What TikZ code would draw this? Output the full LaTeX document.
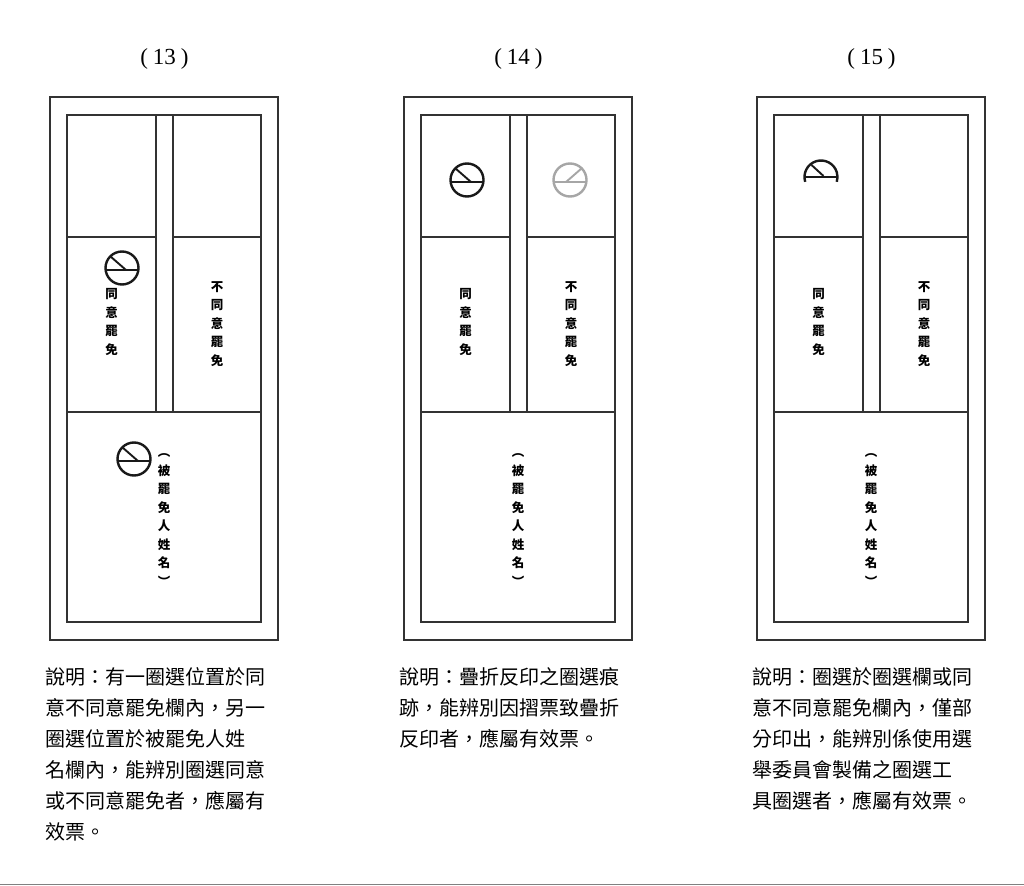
\documentclass[tikz,border=0pt]{standalone}
\usepackage{fontspec}
\setmainfont{Liberation Serif}
\newfontfamily\cjk{Noto Sans CJK TC}
\usetikzlibrary{calc}

\tikzset{
  frame/.style={draw=black!80,line width=1.4pt},
  vlabel/.style={font=\cjk\bfseries\fontsize{12.5}{18.5}\selectfont,align=center,inner sep=0pt},
  note/.style={font=\cjk\fontsize{20}{31}\selectfont,align=left,anchor=north west,inner sep=0pt},
  title/.style={font=\fontsize{23}{26}\selectfont,inner sep=0pt},
  stamp/.pic={
    \draw[line width=2.4pt] (0,0) circle (16.5pt);
    \draw[line width=1.9pt] (-16.4pt,-2pt) -- (16.4pt,-2pt);
    \draw[line width=1.9pt] (-11.7pt,11.7pt) -- (4pt,-2pt);
  },
  halfstamp/.pic={
    \draw[line width=2.4pt] (197:16.5pt) arc[start angle=197,end angle=-17,radius=16.5pt];
    \draw[line width=1.9pt] (-16pt,0pt) -- (16pt,0pt);
    \draw[line width=1.9pt] (-9.5pt,12pt) -- (2.5pt,1pt);
  }
}

\begin{document}
\begin{tikzpicture}[x=1pt,y=-1pt]
  \fill[white] (0,0) rectangle (1024,885);
  \useasboundingbox (0,0) rectangle (1024,885);

  \foreach \dx/\num/\txt in {
    0/13/{說明：有一圈選位置於同\\意不同意罷免欄內，另一\\圈選位置於被罷免人姓\\名欄內，能辨別圈選同意\\或不同意罷免者，應屬有\\效票。},
    354/14/{說明：疊折反印之圈選痕\\跡，能辨別因摺票致疊折\\反印者，應屬有效票。},
    707/15/{說明：圈選於圈選欄或同\\意不同意罷免欄內，僅部\\分印出，能辨別係使用選\\舉委員會製備之圈選工\\具圈選者，應屬有效票。}}
  {
    \begin{scope}[xshift=\dx pt]
      \node[title] (title\num) at (164.5,59) {(\kern5pt\num\kern5pt)};
      % ballot frame
      \draw[frame] (50,97) rectangle (278,640);
      \draw[frame] (67,115) rectangle (261,622);
      \draw[frame] (156,115) -- (156,412);
      \draw[frame] (173,115) -- (173,412);
      \draw[frame] (67,237) -- (156,237);
      \draw[frame] (173,237) -- (261,237);
      \draw[frame] (67,412) -- (261,412);
      % cell labels
      \node[vlabel] (agree\num) at (111.5,322) {同\\意\\罷\\免};
      \node[vlabel] (disagree\num) at (217,324) {不\\同\\意\\罷\\免};
      \node[vlabel] (name\num) at (164,520) {︵\\被\\罷\\免\\人\\姓\\名\\︶};
      \node[note] (note\num) at (45,667) {\txt};
    \end{scope}
  }

  % stamp marks
  \pic[black!90] at (122,268) {stamp};
  \pic[black!90] at (134,459) {stamp};
  \pic[black!90] at (467,180) {stamp};
  \pic[black!35,xscale=-1] at (570,180) {stamp};
  \pic[black!90] at (821,177) {halfstamp};

  \draw[black!50,line width=1pt] (0,884.5) -- (1024,884.5);
\end{tikzpicture}
\end{document}
